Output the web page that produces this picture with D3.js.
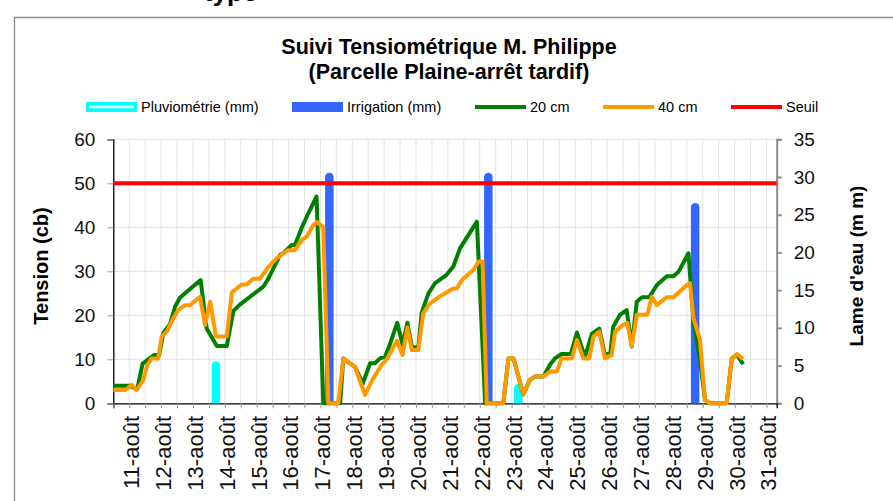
<html>
<head>
<meta charset="utf-8">
<script src="https://cdn.jsdelivr.net/npm/d3@7"></script>
<title>Suivi Tensiométrique M. Philippe</title>
<style>
  body { margin: 0; background: #fff; }
  svg { display: block; font-family: "Liberation Sans", Arial, sans-serif; }
</style>
</head>
<body>
<script>
// tension readings, 20 cm probe (day of August, centibars)
var days20 = [10.5, 11.0, 11.25, 11.42, 11.6, 11.79, 11.94, 12.07, 12.28, 12.44, 12.59, 12.75,
  13.24, 13.43, 13.75, 14.06, 14.27, 14.48, 15.21, 15.37, 15.73, 15.84, 16.1, 16.2, 16.41, 16.57,
  16.88, 17.09, 17.62, 17.72, 18.09, 18.33, 18.56, 18.71, 18.87, 19.03, 19.19, 19.41, 19.58,
  19.73, 19.87, 20.07, 20.18, 20.39, 20.6, 20.96, 21.17, 21.38, 21.91, 22.17, 22.74, 22.9, 23.06,
  23.37, 23.56, 23.74, 24.0, 24.21, 24.36, 24.57, 24.86, 25.05, 25.3, 25.52, 25.75, 25.93, 26.1,
  26.19, 26.4, 26.61, 26.77, 26.93, 27.09, 27.32, 27.56, 27.87, 28.08, 28.24, 28.55, 28.71,
  28.91, 29.07, 29.23, 29.75, 29.91, 30.07, 30.27];
var tension20 = [4, 4, 3.2, 9, 10, 11, 11, 16, 18, 22, 24, 25,
  28, 17, 13, 13, 21, 22.5, 26.5, 28.4, 33.7, 34.1, 36, 36, 39.8, 42.4,
  47, 0, 0, 10.2, 8.2, 4.5, 9.1, 9.1, 10.2, 10.6, 13.6, 18.3, 13.3,
  18.3, 12.9, 12.5, 20.6, 25, 27.3, 29.2, 31.1, 35.2, 41.3, 0, 0, 10.2, 10.2,
  2, 5.2, 6.1, 6.1, 8.8, 10.2, 11.2, 11.2, 16.1, 10.5, 15.8, 17, 11, 11.5,
  17.4, 20.1, 21.2, 12.9, 23.1, 24.1, 24.1, 26.9, 28.9, 28.9, 29.9, 34.1, 18.6,
  10, 0.8, 0, 0, 10.2, 11, 8.9];

// tension readings, 40 cm probe
var days40 = [10.5, 10.87, 11.08, 11.23, 11.44, 11.57, 11.7, 11.91, 12.02, 12.18, 12.38, 12.54,
  12.75, 12.91, 13.22, 13.38, 13.54, 13.72, 14.06, 14.22, 14.53, 14.69, 14.89, 15.1, 15.37, 15.63,
  15.99, 16.2, 16.41, 16.57, 16.78, 16.9, 17.09, 17.25, 17.56, 17.72, 18.09, 18.4, 18.66, 18.92,
  19.08, 19.4, 19.58, 19.73, 19.87, 20.07, 20.23, 20.44, 20.75, 21.17, 21.28, 21.44, 21.8, 21.96,
  22.09, 22.22, 22.74, 22.9, 23.06, 23.37, 23.56, 23.74, 24.0, 24.21, 24.42, 24.57, 24.89, 25.05,
  25.25, 25.44, 25.57, 25.75, 25.93, 26.14, 26.25, 26.46, 26.63, 26.77, 26.93, 27.26, 27.4, 27.56,
  27.87, 28.08, 28.5, 28.6, 28.71, 28.91, 29.07, 29.23, 29.75, 29.91, 30.08, 30.26];
var tension40 = [3, 3, 4.2, 3, 5.3, 8.7, 10.2, 10.2, 15.2, 16.3, 19.3, 21.2,
  22.3, 22.3, 24.2, 17.8, 23.1, 15.2, 15.2, 25.2, 27, 27, 28.3, 28.3, 31, 33,
  34.8, 34.8, 37.1, 37.9, 40.5, 41.2, 39.9, 0, 0, 10.2, 8.2, 1.9, 5.7, 8.7,
  10, 14.2, 11, 17.3, 12.1, 12.1, 20.5, 22.7, 24.3, 26.1, 26.1, 28, 30.3, 32.2,
  32.2, 0, 0, 10.2, 10.2, 2, 5.2, 6.1, 6.1, 7.2, 7.2, 10.2, 10.2, 14.4,
  10.2, 10.2, 15.2, 16.3, 10.2, 11, 16.3, 17.6, 18.3, 12.9, 20.1, 20.1, 24.2, 22.3,
  24.1, 24.1, 26.9, 27.3, 19.3, 14.4, 0.8, 0, 0, 10.2, 11.2, 10];

// rain and irrigation (mm, right axis)
var pluvioDays = [13.72, 23.21];
var pluvioMm = [5, 2];
var irrigDays = [17.28, 22.27, 28.76];
var irrigMm = [30, 30, 26];

var seuil = 50;

// x tick labels, one per day
var labelDays = d3.range(11, 32);
var dayLabels = labelDays.map(function(d) { return d + "-août"; });

// ---- figure ----
var width = 893, height = 501;
var plotLeft = 113.3, plotRight = 776.7, plotTop = 139.3, plotBottom = 403.3;

var svg = d3.select("body").append("svg")
    .attr("width", width)
    .attr("height", height);

svg.append("rect").attr("width", width).attr("height", height).attr("fill", "#fff");

// cut-off heading above the chart frame
svg.append("text")
    .attr("x", 204).attr("y", 1)
    .attr("font-size", 26).attr("font-weight", "bold")
    .text("type");

// chart frame
svg.append("path")
    .attr("d", "M14.5," + height + "V17.5H" + width)
    .attr("fill", "none")
    .attr("stroke", "#8c8c8c")
    .attr("stroke-width", 1.3);

var x = d3.scaleLinear().domain([10.5, 31.32]).range([plotLeft, plotRight]);
var y = d3.scaleLinear().domain([0, 60]).range([plotBottom, plotTop]);
var y2 = d3.scaleLinear().domain([0, 35]).range([plotBottom, plotTop]);

// titles
svg.append("text")
    .attr("x", 449).attr("y", 54)
    .attr("text-anchor", "middle")
    .attr("font-size", 21.5).attr("font-weight", "bold")
    .text("Suivi Tensiométrique M. Philippe");
svg.append("text")
    .attr("x", 449).attr("y", 79)
    .attr("text-anchor", "middle")
    .attr("font-size", 21.5).attr("font-weight", "bold")
    .text("(Parcelle Plaine-arrêt tardif)");

// grid
var halfDays = d3.range(11, 31.01, 0.5);
svg.append("g").selectAll("line")
    .data(halfDays)
    .enter().append("line")
    .attr("x1", function(d) { return x(d); })
    .attr("x2", function(d) { return x(d); })
    .attr("y1", plotTop).attr("y2", plotBottom)
    .attr("stroke", "#e3e3e3");
svg.append("g").selectAll("line")
    .data(d3.range(10, 61, 10))
    .enter().append("line")
    .attr("x1", plotLeft).attr("x2", plotRight)
    .attr("y1", function(d) { return y(d); })
    .attr("y2", function(d) { return y(d); })
    .attr("stroke", "#e3e3e3");

// axes
var leftAxis = svg.append("g")
    .attr("transform", "translate(" + plotLeft + ",0)")
    .call(d3.axisLeft(y).tickValues(d3.range(0, 61, 10)).tickSize(6).tickPadding(12));
leftAxis.select(".domain").attr("stroke", "#000").attr("stroke-width", 1.3);
leftAxis.selectAll(".tick line").attr("stroke", "#999");
leftAxis.selectAll("text").attr("font-size", 19).attr("fill", "#111")
    .attr("font-family", "Liberation Sans, Arial, sans-serif");

var rightAxis = svg.append("g")
    .attr("transform", "translate(" + plotRight + ",0)")
    .call(d3.axisRight(y2).tickValues(d3.range(0, 36, 5)).tickSize(5).tickPadding(12));
rightAxis.select(".domain").attr("stroke", "#8c8c8c").attr("stroke-width", 2);
rightAxis.selectAll(".tick line").attr("stroke", "#8c8c8c").attr("stroke-width", 2);
rightAxis.selectAll("text").attr("font-size", 19).attr("fill", "#111")
    .attr("font-family", "Liberation Sans, Arial, sans-serif");

var bottomAxis = svg.append("g")
    .attr("transform", "translate(0," + plotBottom + ")")
    .call(d3.axisBottom(x).tickValues(d3.range(10.5, 31.01, 0.5)).tickSize(5).tickFormat(""));
bottomAxis.select(".domain").attr("stroke", "#000").attr("stroke-width", 1.3);
bottomAxis.selectAll(".tick line").attr("stroke", "#999");

// day labels, rotated
svg.append("g").selectAll("text")
    .data(labelDays)
    .enter().append("text")
    .attr("transform", function(d) { return "translate(" + (x(d) + 2) + "," + 416 + ") rotate(-90)"; })
    .attr("text-anchor", "end")
    .attr("dy", "0.36em")
    .attr("font-size", 22)
    .attr("fill", "#111")
    .text(function(d, i) { return dayLabels[i]; });

// axis titles
svg.append("text")
    .attr("transform", "translate(41,266) rotate(-90)")
    .attr("text-anchor", "middle").attr("dy", "0.35em")
    .attr("font-size", 20).attr("font-weight", "bold")
    .text("Tension (cb)");
svg.append("text")
    .attr("transform", "translate(856,266) rotate(-90)")
    .attr("text-anchor", "middle").attr("dy", "0.35em")
    .attr("font-size", 19).attr("font-weight", "bold")
    .text("Lame d'eau (m m)");

// clip for the bars so their round caps stop at the axis
svg.append("clipPath").attr("id", "plot")
    .append("rect").attr("x", plotLeft).attr("y", 0).attr("width", plotRight - plotLeft).attr("height", plotBottom);

var bars = svg.append("g").attr("clip-path", "url(#plot)");
bars.selectAll(".pluvio")
    .data(pluvioDays)
    .enter().append("line")
    .attr("class", "pluvio")
    .attr("x1", function(d) { return x(d); })
    .attr("x2", function(d) { return x(d); })
    .attr("y1", y2(0) + 6)
    .attr("y2", function(d, i) { return y2(pluvioMm[i]); })
    .attr("stroke", "#00ffff").attr("stroke-width", 8.5).attr("stroke-linecap", "round");
bars.selectAll(".irrig")
    .data(irrigDays)
    .enter().append("line")
    .attr("class", "irrig")
    .attr("x1", function(d) { return x(d); })
    .attr("x2", function(d) { return x(d); })
    .attr("y1", y2(0) + 6)
    .attr("y2", function(d, i) { return y2(irrigMm[i]); })
    .attr("stroke", "#3366ff").attr("stroke-width", 8.5).attr("stroke-linecap", "round");

// tension lines
var line = d3.line()
    .x(function(d) { return x(d[0]); })
    .y(function(d) { return y(d[1]); });

svg.append("path")
    .datum(d3.zip(days20, tension20))
    .attr("d", line)
    .attr("fill", "none").attr("stroke", "#008000").attr("stroke-width", 4)
    .attr("stroke-linejoin", "round");
svg.append("path")
    .datum(d3.zip(days40, tension40))
    .attr("d", line)
    .attr("fill", "none").attr("stroke", "#ff9900").attr("stroke-width", 4)
    .attr("stroke-linejoin", "round");

// threshold
svg.append("line")
    .attr("x1", plotLeft).attr("x2", plotRight)
    .attr("y1", y(seuil)).attr("y2", y(seuil))
    .attr("stroke", "#ff0000").attr("stroke-width", 4);

// legend
var legend = [
  { label: "Pluviométrie (mm)", x: 86, type: "rain" },
  { label: "Irrigation (mm)", x: 292, type: "bar", color: "#3366ff" },
  { label: "20 cm", x: 475, type: "line", color: "#008000" },
  { label: "40 cm", x: 603, type: "line", color: "#ff9900" },
  { label: "Seuil", x: 731, type: "line", color: "#ff0000" }
];
var ly = 107;
var item = svg.append("g").selectAll("g")
    .data(legend)
    .enter().append("g")
    .attr("transform", function(d) { return "translate(" + d.x + "," + ly + ")"; });
item.filter(function(d) { return d.type == "rain"; })
    .append("rect").attr("x", 0).attr("y", -5).attr("width", 51).attr("height", 10).attr("fill", "#00ffff");
item.filter(function(d) { return d.type == "rain"; })
    .append("line").attr("x1", 3).attr("x2", 48).attr("y1", 0).attr("y2", 0)
    .attr("stroke", "#d6ffff").attr("stroke-width", 2.5);
item.filter(function(d) { return d.type == "bar"; })
    .append("rect").attr("x", 0).attr("y", -5).attr("width", 51).attr("height", 10)
    .attr("fill", function(d) { return d.color; });
item.filter(function(d) { return d.type == "line"; })
    .append("line").attr("x1", 0).attr("x2", 51).attr("y1", 0).attr("y2", 0)
    .attr("stroke", function(d) { return d.color; }).attr("stroke-width", 4);
item.append("text")
    .attr("x", 55).attr("dy", "0.35em")
    .attr("font-size", 14.5)
    .text(function(d) { return d.label; });
</script>
</body>
</html>
